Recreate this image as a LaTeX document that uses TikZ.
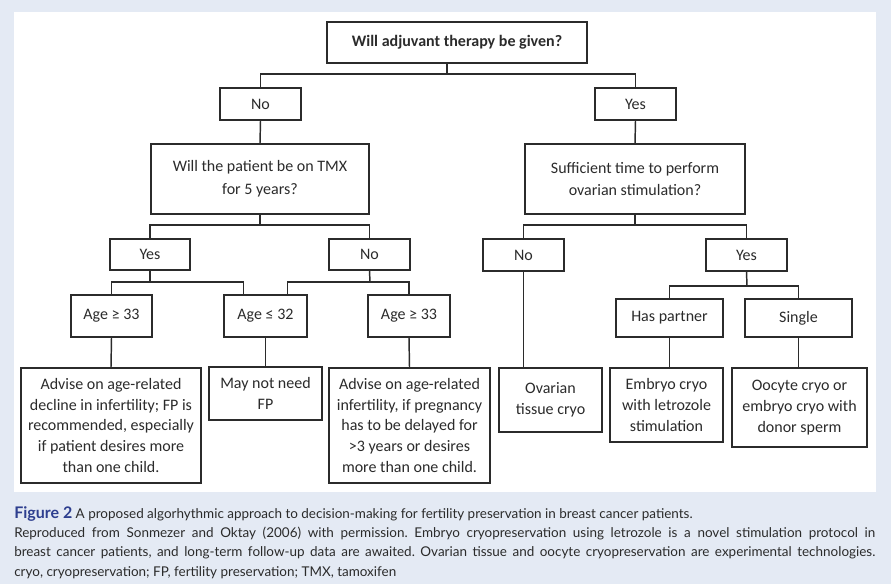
\documentclass[tikz,border=0pt]{standalone}
\usepackage{fontspec}
\setmainfont{Carlito}
\newfontfamily\capfont{Lato}
\usepackage{xcolor}
\definecolor{panelbg}{HTML}{E4EAF4}
\definecolor{inkgray}{HTML}{2B2B2B}
\definecolor{figblue}{HTML}{2E3F8F}

\begin{document}
\begin{tikzpicture}[x=0.75pt,y=0.75pt,yscale=-1,xscale=1,
                box/.style={draw=inkgray, line width=1.1pt, fill=white, align=center, inner sep=2pt, text=inkgray, font=\fontsize{12}{15.5}\selectfont},
                link/.style={draw=inkgray, line width=1.1pt}]
                \useasboundingbox (0,0) rectangle (891,584);
                \fill[panelbg] (0,0) rectangle (891,584);
                \fill[white] (14,12) rectangle (876,492);
                \node[box, line width=1.6pt, font=\bfseries\fontsize{12}{15}\selectfont, minimum width=260*0.75pt, minimum height=41*0.75pt] (adj) at (457,42.5) {Will adjuvant therapy be given?};
                \node[box, minimum width=81*0.75pt, minimum height=32*0.75pt] (no1) at (260.5,104) {No};
                \node[box, minimum width=81*0.75pt, minimum height=32*0.75pt] (yes1) at (635.5,104) {Yes};
                \node[box, font=\fontsize{12}{17}\selectfont, minimum width=218*0.75pt, minimum height=70*0.75pt] (tmx) at (260,179) {Will the patient be on TMX\\for 5 years?};
                \node[box, font=\fontsize{12}{17}\selectfont, minimum width=220*0.75pt, minimum height=70*0.75pt] (suff) at (635,179) {Sufficient time to perform\\ovarian stimulation?};
                \node[box, minimum width=80*0.75pt, minimum height=31*0.75pt] (yes2) at (150,254.5) {Yes};
                \node[box, minimum width=81*0.75pt, minimum height=31*0.75pt] (no2) at (369.5,254.5) {No};
                \node[box, minimum width=81*0.75pt, minimum height=32*0.75pt] (no3) at (523.5,255) {No};
                \node[box, minimum width=81*0.75pt, minimum height=32*0.75pt] (yes3) at (746.5,255) {Yes};
                \node[box, minimum width=81*0.75pt, minimum height=42*0.75pt] (ageA) at (111.5,316) {Age ≥ 33};
                \node[box, minimum width=83*0.75pt, minimum height=42*0.75pt] (ageB) at (265.5,316) {Age ≤ 32};
                \node[box, minimum width=82*0.75pt, minimum height=42*0.75pt] (ageC) at (409,316) {Age ≥ 33};
                \node[box, minimum width=107*0.75pt, minimum height=38*0.75pt] (partner) at (669.5,318) {Has partner};
                \node[box, minimum width=107*0.75pt, minimum height=38*0.75pt] (single) at (798.5,318) {Single};
                \node[box, minimum width=180*0.75pt, minimum height=115*0.75pt] (advA) at (111,425.5) {Advise on age-related\\decline in infertility; FP is\\recommended, especially\\if patient desires more\\than one child.};
                \node[box, minimum width=113*0.75pt, minimum height=53*0.75pt] (mayfp) at (265.5,393.5) {May not need\\FP};
                \node[box, minimum width=161*0.75pt, minimum height=115*0.75pt] (advB) at (409.5,425.5) {Advise on age-related\\infertility, if pregnancy\\has to be delayed for\\>3 years or desires\\more than one child.};
                \node[box, minimum width=103*0.75pt, minimum height=64*0.75pt] (ovar) at (550.5,400) {Ovarian\\tissue cryo};
                \node[box, minimum width=113*0.75pt, minimum height=74*0.75pt] (embryo) at (666.5,405) {Embryo cryo\\with letrozole\\stimulation};
                \node[box, minimum width=135*0.75pt, minimum height=79*0.75pt] (oocyte) at (799.5,407.5) {Oocyte cryo or\\embryo cryo with\\donor sperm};
                \coordinate (jadj) at (447,74);
                \coordinate (jtmx) at (260,225);
                \coordinate (jsuff) at (635,225);
                \coordinate (jyes2) at (150,282);
                \coordinate (jno2) at (370,282);
                \coordinate (jyes3) at (747,286);
                \draw[link] (adj.south -| jadj) -- (jadj);
                \draw[link] (no1.north) |- (jadj) -| (yes1.north);
                \draw[link] (no1.south) -- (tmx.north);
                \draw[link] (yes1.south) -- (suff.north);
                \draw[link] (tmx.south) -- (jtmx);
                \draw[link] (yes2.north) |- (jtmx) -| (no2.north);
                \draw[link] (suff.south) -- (jsuff);
                \draw[link] (no3.north) |- (jsuff) -| (yes3.north);
                \draw[link] (yes2.south) -- (jyes2);
                \draw[link] (ageA.north) |- (jyes2) -| ([xshift=15pt]ageB.north west);
                \draw[link] (no2.south) -- (jno2);
                \draw[link] ([xshift=-15pt]ageB.north east) |- (jno2) -| (ageC.north);
                \draw[link] (yes3.south) -- (jyes3);
                \draw[link] (partner.north) |- (jyes3) -| (single.north);
                \draw[link] (ageA.south) -- (advA.north);
                \draw[link] (ageB.south) -- (mayfp.north);
                \draw[link] (ageC.south) -- (advB.north);
                \draw[link] (no3.south) -- (no3.south |- ovar.north);
                \draw[link] (partner.south) -- (partner.south |- embryo.north);
                \draw[link] (single.south) -- (single.south |- oocyte.north);
                \node[anchor=base west, inner sep=0pt, text width=861*0.75pt, align=justify, text=inkgray, font=\capfont\fontsize{10.1}{14.5}\selectfont\frenchspacing] (caption) at (14,518) {{\color{figblue}\bfseries\fontsize{12}{14.5}\selectfont Figure 2} A proposed algorhythmic approach to decision-making for fertility preservation in breast cancer patients.\\ Reproduced from Sonmezer and Oktay (2006) with permission. Embryo cryopreservation using letrozole is a novel stimulation protocol in\linebreak breast cancer patients, and long-term follow-up data are awaited. Ovarian tissue and oocyte cryopreservation are experimental technologies.\linebreak cryo, cryopreservation; FP, fertility preservation; TMX, tamoxifen};
\end{tikzpicture}
\end{document}
